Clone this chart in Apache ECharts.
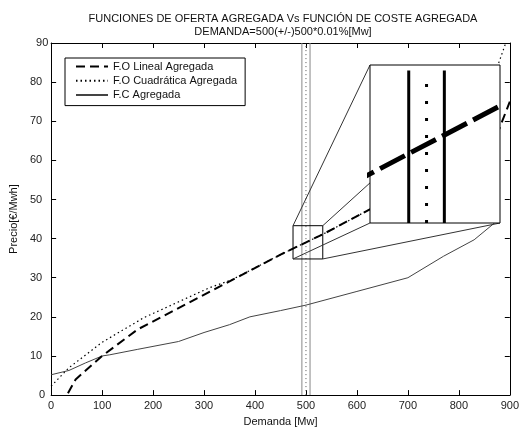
<!DOCTYPE html>
<html><head><meta charset="utf-8">
<script src="https://cdn.jsdelivr.net/npm/echarts@6/dist/echarts.min.js"></script>
<style>html,body{margin:0;padding:0;background:#fff}#c{width:522px;height:432px}</style>
</head><body><div id="c"></div>
<script>
// ---- data ----
const titleLines = ['FUNCIONES DE OFERTA AGREGADA Vs FUNCIÓN DE COSTE AGREGADA', 'DEMANDA=500(+/-)500*0.01%[Mw]'];
const seriesNames = ['F.O Lineal Agregada', 'F.O Cuadrática Agregada', 'F.C Agregada'];
const xName = 'Demanda [Mw]';
const yName = 'Precio[€/Mwh]';
const xRange = [0, 900], xStep = 100;
const yRange = [0, 90], yStep = 10;

const foLinealX = [33, 48, 100, 170, 450, 533, 633, 873, 900];
const foLinealY = [0.5, 4, 10, 16.8, 35.9, 41.1, 48.0, 66, 75];

const foCuadX = [0, 35, 100, 182, 310, 355, 450, 533, 633, 873, 892];
const foCuadY = [2.3, 7, 13.5, 19.8, 27.4, 29.5, 35.9, 41.1, 48.0, 83, 90];

const fcX = [0, 35, 67, 100, 115, 170, 250, 300, 350, 390, 450, 500, 600, 700, 770, 830, 870];
const fcY = [5.2, 6.3, 8.2, 10, 10.3, 11.7, 13.7, 16, 18, 20, 21.6, 23, 26.5, 30, 35.5, 39.7, 44];

const demandBounds = [492, 508];
const demandCenter = 500;

const zoomX = [474.6, 533];
const zoomY = [34.8, 43.3];
const insetLineTop = 43.0;

// ---- layout ----
const FONT = '"Liberation Sans", Arial, sans-serif';
const mainBox = {left: 45, top: 43, width: 469, height: 353};
const insetBox = {left: 370, top: 65, width: 130, height: 158};

const pairs = (xs, ys) => xs.map((x, i) => [x, ys[i]]);
const vline = (x, y0, y1) => [[x, y0], [x, y1]];

const chart = echarts.init(document.getElementById('c'), null, {renderer: 'canvas'});

const axisCommon = {
  axisLine: {show: true, onZero: false, lineStyle: {color: '#000', width: 1}},
  axisTick: {show: true, inside: true, length: 5, lineStyle: {color: '#000'}},
  splitLine: {show: false}
};

const mainSeries = (name, data, ls, extra) => Object.assign({
  name, type: 'line', xAxisIndex: 0, yAxisIndex: 0, data,
  symbol: 'none', showSymbol: false, silent: true, animation: false,
  itemStyle: {color: ls.color},
  lineStyle: ls, z: 2
}, extra || {});

const insetSeries = (data, ls) => ({
  type: 'line', xAxisIndex: 2, yAxisIndex: 2, data,
  symbol: 'none', showSymbol: false, silent: true, animation: false,
  itemStyle: {color: ls.color},
  lineStyle: ls, z: 12, clip: true
});

const option = {
  animation: false,
  backgroundColor: '#fff',
  title: {
    text: titleLines.join('\n'),
    left: 278, top: 7, textAlign: 'center',
    textStyle: {fontFamily: FONT, fontSize: 11, fontWeight: 'normal', color: '#111', lineHeight: 13}
  },
  legend: {
    data: seriesNames,
    orient: 'vertical',
    left: 65, top: 58,
    padding: [3, 8, 5, 10],
    itemWidth: 32, itemHeight: 14, itemGap: 3,
    backgroundColor: '#fff',
    borderColor: '#000', borderWidth: 1, borderRadius: 0,
    textStyle: {fontFamily: FONT, fontSize: 11, color: '#111'},
    itemStyle: {opacity: 0, borderWidth: 0},
    selectedMode: false,
    z: 6
  },
  grid: [
    Object.assign({show: false, containLabel: false}, mainBox),
    Object.assign({show: true, backgroundColor: '#fff', borderColor: '#000', borderWidth: 1, z: 10}, insetBox)
  ],
  xAxis: [
    Object.assign({}, axisCommon, {
      type: 'value', gridIndex: 0, position: 'bottom', min: xRange[0], max: xRange[1], interval: xStep,
      name: xName, nameLocation: 'middle', nameGap: 12,
      nameTextStyle: {fontFamily: FONT, fontSize: 11, color: '#111'},
      axisLabel: {fontFamily: FONT, fontSize: 11, color: '#222', margin: 5,
        alignMinLabel: 'center', alignMaxLabel: 'center', showMinLabel: true, showMaxLabel: true}
    }),
    Object.assign({}, axisCommon, {
      type: 'value', gridIndex: 0, position: 'top', min: xRange[0], max: xRange[1], interval: xStep,
      axisLabel: {show: false}
    }),
    {type: 'value', gridIndex: 1, min: zoomX[0], max: zoomX[1], show: false}
  ],
  yAxis: [
    Object.assign({}, axisCommon, {
      type: 'value', gridIndex: 0, position: 'left', min: yRange[0], max: yRange[1], interval: yStep,
      name: yName, nameLocation: 'middle', nameGap: 20,
      nameTextStyle: {fontFamily: FONT, fontSize: 11, color: '#111'},
      axisLabel: {fontFamily: FONT, fontSize: 11, color: '#222', margin: 9,
        alignMinLabel: 'center', alignMaxLabel: 'center', showMinLabel: true, showMaxLabel: true}
    }),
    Object.assign({}, axisCommon, {
      type: 'value', gridIndex: 0, position: 'right', min: yRange[0], max: yRange[1], interval: yStep,
      axisLabel: {show: false}
    }),
    {type: 'value', gridIndex: 1, min: zoomY[0], max: zoomY[1], show: false}
  ],
  series: [
    mainSeries('vlo', vline(demandBounds[0], yRange[0], yRange[1]), {color: '#888', width: 1}, {z: 1}),
    mainSeries('vhi', vline(demandBounds[1], yRange[0], yRange[1]), {color: '#888', width: 1}, {z: 1}),
    mainSeries('vmid', vline(demandCenter, yRange[0], yRange[1]), {color: '#555', width: 1, type: [1, 3]}, {z: 1}),
    mainSeries(seriesNames[2], pairs(fcX, fcY), {color: '#444', width: 1}),
    mainSeries(seriesNames[1], pairs(foCuadX, foCuadY), {color: '#000', width: 1.2, type: [1.5, 3]}),
    mainSeries(seriesNames[0], pairs(foLinealX, foLinealY), {color: '#000', width: 2, type: [9, 5]}),
    mainSeries('zoomRect', [[zoomX[0], zoomY[0]], [zoomX[1], zoomY[0]], [zoomX[1], zoomY[1]], [zoomX[0], zoomY[1]], [zoomX[0], zoomY[0]]],
      {color: '#000', width: 1}, {z: 3}),
    insetSeries(pairs(foLinealX, foLinealY), {color: '#000', width: 5, type: [28, 7], cap: 'butt'}),
    insetSeries(vline(demandBounds[0], zoomY[0], insetLineTop), {color: '#000', width: 3}),
    insetSeries(vline(demandBounds[1], zoomY[0], insetLineTop), {color: '#000', width: 3}),
    insetSeries(vline(demandCenter, zoomY[0], insetLineTop - 0.3), {color: '#000', width: 3, type: [3, 14]})
  ]
};
chart.setOption(option);

// connector lines between the zoom rectangle and the inset, behind the inset
const px = (x, y) => chart.convertToPixel({gridIndex: 0}, [x, y]);
const rTL = px(zoomX[0], zoomY[1]), rTR = px(zoomX[1], zoomY[1]);
const rBL = px(zoomX[0], zoomY[0]), rBR = px(zoomX[1], zoomY[0]);
const iL = insetBox.left, iR = insetBox.left + insetBox.width;
const iT = insetBox.top, iB = insetBox.top + insetBox.height;
const conn = (a, b) => ({
  type: 'line', z: 5, silent: true,
  shape: {x1: a[0], y1: a[1], x2: b[0], y2: b[1]},
  style: {stroke: '#333', lineWidth: 1}
});
chart.setOption({
  graphic: [
    conn(rTL, [iL, iT]), conn(rTR, [iR, iT]), conn(rBL, [iL, iB]), conn(rBR, [iR, iB])
  ]
});
</script>
</body></html>
